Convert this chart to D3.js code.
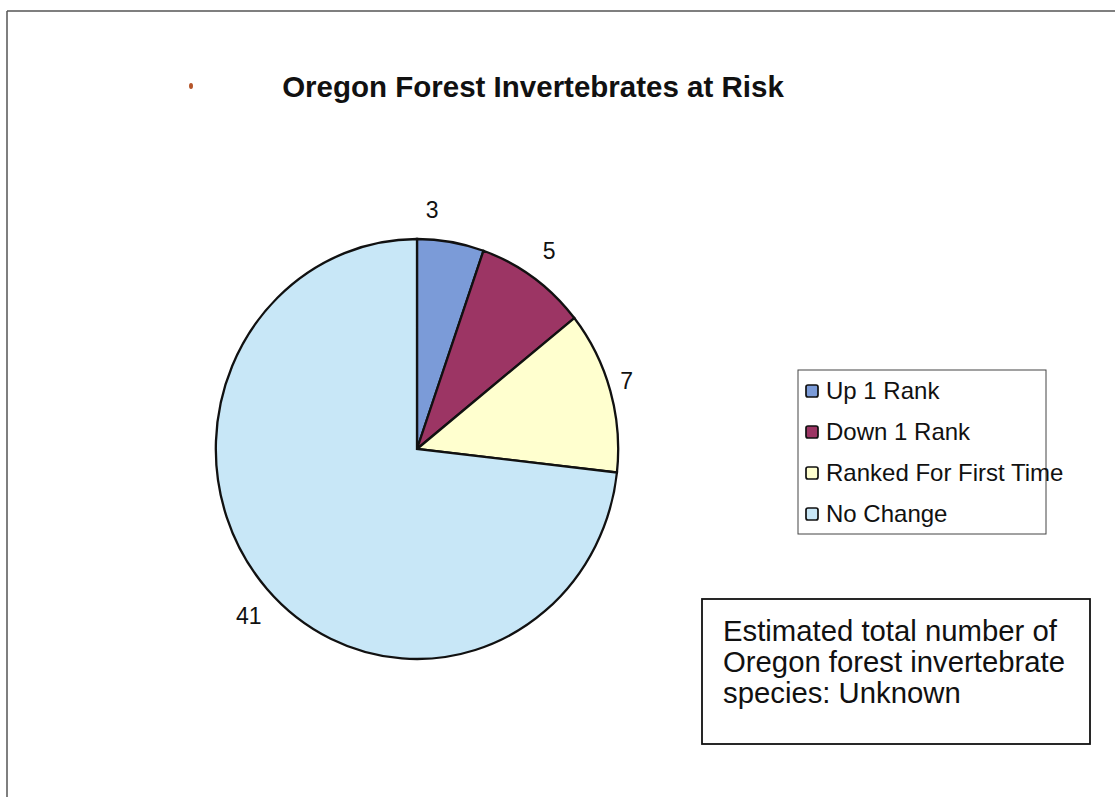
<!DOCTYPE html>
<html><head><meta charset="utf-8">
<script src="https://cdn.jsdelivr.net/npm/d3@7"></script>
<style>html,body{margin:0;padding:0;background:#fff}svg{display:block}</style>
</head><body>
<script>
const categories = ["Up 1 Rank", "Down 1 Rank", "Ranked For First Time", "No Change"];
const values = [3, 5, 7, 41];
const colors = ["#7b9bd8", "#9c3564", "#ffffcf", "#c8e7f7"];
const title = "Oregon Forest Invertebrates at Risk";
const noteLines = ["Estimated total number of", "Oregon forest invertebrate", "species: Unknown"];

const W = 1115, H = 797;
const svg = d3.select("body").append("svg").attr("width", W).attr("height", H);
const font = "Liberation Sans, Arial, sans-serif";

// frame
svg.append("line").attr("x1", 7).attr("y1", 11).attr("x2", W).attr("y2", 11).attr("stroke", "#555").attr("stroke-width", 1.5);
svg.append("line").attr("x1", 7).attr("y1", 11).attr("x2", 7).attr("y2", H).attr("stroke", "#555").attr("stroke-width", 1.5);

// scan speck
svg.append("ellipse").attr("cx", 191).attr("cy", 86).attr("rx", 2).attr("ry", 3).attr("fill", "#b5552a");

svg.append("text").attr("x", 533).attr("y", 97).attr("text-anchor", "middle")
  .attr("font-family", font).attr("font-weight", "bold").attr("font-size", 29.5).attr("fill", "#111")
  .text(title);

// pie
const cx = 417, cy = 449, R = 210, sx = 0.958;
const pie = d3.pie().sort(null).value(d => d)(values);
const arc = d3.arc().innerRadius(0).outerRadius(R);
const g = svg.append("g").attr("transform", `translate(${cx},${cy}) scale(${sx},1)`);
g.selectAll("path").data(pie).join("path")
  .attr("d", arc).attr("fill", (d, i) => colors[i])
  .attr("stroke", "#111").attr("stroke-width", 2.3).attr("vector-effect", "non-scaling-stroke");

// value labels
const labelArc = d3.arc().innerRadius(R + 34).outerRadius(R + 34);
const labelOffsets = [[-24, 2], [-3, 1], [-15, 0], [6, 4]];
svg.append("g").selectAll("text").data(pie).join("text")
  .attr("x", (d, i) => cx + labelArc.centroid(d)[0] * sx + labelOffsets[i][0])
  .attr("y", (d, i) => cy + labelArc.centroid(d)[1] + 8 + labelOffsets[i][1])
  .attr("text-anchor", "middle").attr("font-family", font).attr("font-size", 23).attr("fill", "#111")
  .text(d => d.data);

// legend
const lg = svg.append("g");
lg.append("rect").attr("x", 798).attr("y", 370).attr("width", 248).attr("height", 164)
  .attr("fill", "none").attr("stroke", "#444").attr("stroke-width", 1);
const rowY = d3.scalePoint().domain(categories).range([391, 514]);
categories.forEach((c, i) => {
  lg.append("rect").attr("x", 806).attr("y", rowY(c) - 6).attr("width", 12).attr("height", 12)
    .attr("rx", 2).attr("fill", colors[i]).attr("stroke", "#111").attr("stroke-width", 1.7);
  lg.append("text").attr("x", 826).attr("y", rowY(c) + 8).attr("font-family", font).attr("font-size", 24)
    .attr("fill", "#111").text(c);
});

// note box
svg.append("rect").attr("x", 702).attr("y", 599).attr("width", 388).attr("height", 145)
  .attr("fill", "none").attr("stroke", "#111").attr("stroke-width", 1.8);
noteLines.forEach((t, i) => {
  svg.append("text").attr("x", 723).attr("y", 641 + i * 31).attr("font-family", font).attr("font-size", 29.3)
    .attr("fill", "#111").text(t);
});
</script>
</body></html>
